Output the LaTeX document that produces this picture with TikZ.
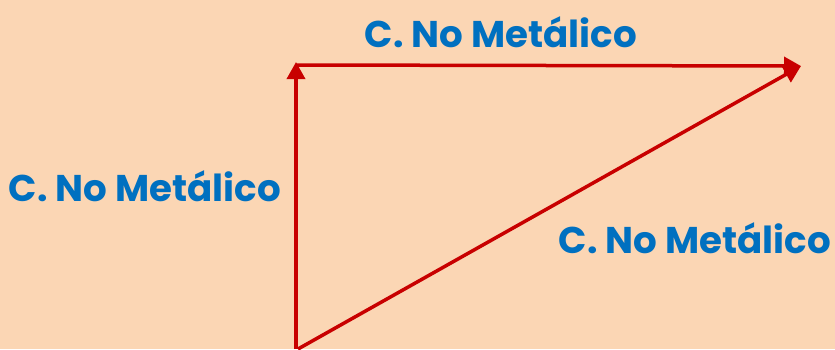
\documentclass[tikz,border=0pt]{standalone}
\usepackage{fontspec}
\setmainfont{Poppins}
\usetikzlibrary{arrows.meta}
\definecolor{bg}{RGB}{251,214,180}
\definecolor{lbl}{RGB}{0,112,192}
\definecolor{arr}{RGB}{200,0,0}
\tikzset{
  vec/.style={draw=arr, line width=3.5pt, -{Triangle[length=17pt,width=18pt]}},
  lab/.style={text=lbl, font=\fontsize{36}{40}\selectfont\bfseries, inner sep=0pt, anchor=center}
}
\begin{document}
\begin{tikzpicture}[x=1pt,y=-1pt]
\fill[bg] (0,0) rectangle (835,349);
\useasboundingbox (0,0) rectangle (835,349);
\coordinate (O) at (296,349);
\coordinate (A) at (296,62);
\coordinate (Ah) at (296,65);
\coordinate (B) at (801,66);
\coordinate (Od) at (298,349);
\draw[vec] (O) -- (A);
\draw[vec] (Ah) -- (B);
\draw[vec] (Od) -- (B);
\node[lab] (t1) at (501,32) {\resizebox{272pt}{!}{C. No Metálico}};
\node[lab] (t2) at (145,186) {\resizebox{272pt}{!}{C. No Metálico}};
\node[lab] (t3) at (695,238) {\resizebox{272pt}{!}{C. No Metálico}};
\end{tikzpicture}
\end{document}
